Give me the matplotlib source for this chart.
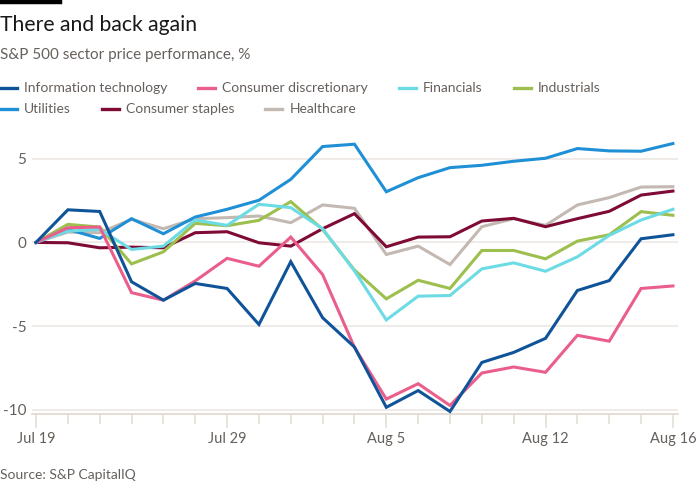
import matplotlib
matplotlib.use("Agg")
import matplotlib.pyplot as plt
from matplotlib.lines import Line2D

plt.rcParams['font.family'] = ['Lato', 'DejaVu Sans']

# trading days Jul 19 - Aug 16
dias = ["Jul 19", "Jul 22", "Jul 23", "Jul 24", "Jul 25", "Jul 26", "Jul 29", "Jul 30",
        "Jul 31", "Aug 1", "Aug 2", "Aug 5", "Aug 6", "Aug 7", "Aug 8", "Aug 9",
        "Aug 12", "Aug 13", "Aug 14", "Aug 15", "Aug 16"]
etiquetas = ["Jul 19", "Jul 29", "Aug 5", "Aug 12", "Aug 16"]

info_tech = [0, 1.95, 1.85, -2.35, -3.45, -2.45, -2.75, -4.9, -1.15, -4.5, -6.25,
             -9.85, -8.85, -10.1, -7.17, -6.57, -5.73, -2.87, -2.28, 0.22, 0.46]
cons_disc = [0, 0.88, 0.92, -3.0, -3.45, -2.3, -0.95, -1.42, 0.32, -1.92, -6.27,
             -9.36, -8.44, -9.74, -7.8, -7.44, -7.76, -5.55, -5.9, -2.75, -2.6]
financials = [0, 0.68, 0.78, -0.42, -0.22, 1.34, 1.02, 2.28, 2.08, 0.82, -1.7,
              -4.63, -3.21, -3.17, -1.58, -1.22, -1.72, -0.86, 0.42, 1.34, 1.98]
industrials = [0, 1.08, 0.92, -1.28, -0.56, 1.14, 1.0, 1.32, 2.44, 0.78, -1.65,
               -3.37, -2.26, -2.75, -0.48, -0.48, -0.98, 0.08, 0.46, 1.84, 1.62]
utilities = [0, 0.78, 0.24, 1.42, 0.52, 1.52, 1.98, 2.52, 3.77, 5.73, 5.87,
             3.03, 3.87, 4.47, 4.61, 4.85, 5.03, 5.61, 5.47, 5.45, 5.91]
cons_staples = [0, -0.02, -0.32, -0.28, -0.32, 0.58, 0.64, -0.02, -0.22, 0.82, 1.72,
                -0.26, 0.32, 0.34, 1.28, 1.44, 0.94, 1.42, 1.86, 2.83, 3.07]
healthcare = [0, 0.62, 0.58, 1.38, 0.82, 1.42, 1.48, 1.58, 1.18, 2.24, 2.04,
              -0.72, -0.22, -1.32, 0.94, 1.42, 1.02, 2.24, 2.68, 3.31, 3.33]

series = [
    ("Information technology", info_tech, "#0f5499"),
    ("Consumer discretionary", cons_disc, "#ea5e8c"),
    ("Financials", financials, "#6cdbe4"),
    ("Industrials", industrials, "#9cbf4e"),
    ("Utilities", utilities, "#1f8fd6"),
    ("Consumer staples", cons_staples, "#7e0a35"),
    ("Healthcare", healthcare, "#c3b9b2"),
]

gris = "#66605c"
x = list(range(len(dias)))

fig = plt.figure(figsize=(7, 5), dpi=100)
fig.patch.set_facecolor("white")
ax = fig.add_axes([0.0453, 0.172, 0.9233, 0.554])

# orden de dibujo: IT arriba
for nombre, vals, color in reversed(series):
    ax.plot(x, vals, color=color, lw=2.2, solid_joinstyle="miter", zorder=3)

ax.set_xlim(-0.135, 20.16)
ax.set_ylim(-10.25, 6.3)
ax.set_yticks([5, 0, -5, -10])
ax.set_yticklabels(["5", "0", "-5", "-10"])
for yv in [5, 0, -5, -10]:
    ax.axhline(yv, color="#ebe6e2", lw=1.1, zorder=1)

ax.set_xticks([dias.index(e) for e in etiquetas])
ax.set_xticklabels(etiquetas)
ax.set_xticks(x, minor=True)

for s in ["top", "right", "left"]:
    ax.spines[s].set_visible(False)
ax.spines["bottom"].set_color("#e3dbd3")
ax.spines["bottom"].set_linewidth(1.3)
ax.tick_params(axis="y", length=0, pad=4, labelsize=11, labelcolor=gris)
ax.tick_params(axis="x", which="major", length=10, width=1.1, color="#e3dbd3",
               pad=3, labelsize=10.5, labelcolor=gris)
ax.tick_params(axis="x", which="minor", length=7, width=1.1, color="#e3dbd3")

# titulo y subtitulo
fig.add_artist(Line2D([0, 60 / 700], [0.996, 0.996], color="black", lw=3.2))
fig.text(0.0, 0.950, "There and back again", fontsize=15.2, color="#1a1817", va="center")
fig.text(0.0, 0.889, "S&P 500 sector price performance, %", fontsize=11, color=gris, va="center")
fig.text(0.0, 0.050, "Source: S&P CapitalIQ", fontsize=10, color=gris, va="center")

# leyenda en flujo
fig.canvas.draw()
renderer = fig.canvas.get_renderer()
filas = [series[:4], series[4:]]
ys = [1 - 88 / 500, 1 - 109 / 500]
for fila, yl in zip(filas, ys):
    px = 0.0
    for nombre, vals, color in fila:
        fig.add_artist(Line2D([px / 700, (px + 17) / 700], [yl, yl], color=color, lw=2.4))
        t = fig.text((px + 24) / 700, yl, nombre, fontsize=10, color=gris, va="center")
        w = t.get_window_extent(renderer).width
        px = px + 24 + w + 31

fig.savefig("out.png", dpi=100, facecolor="white")
